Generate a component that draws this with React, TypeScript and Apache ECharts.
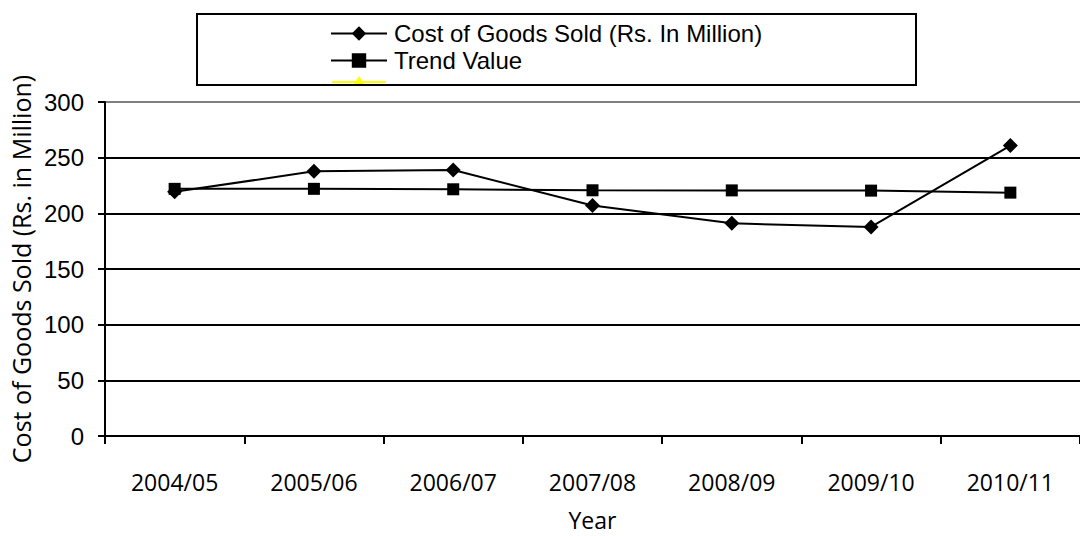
import React, { useEffect, useRef } from "react";
import * as echarts from "echarts";

// Fiscal years on the category axis
const years = ["2004/05", "2005/06", "2006/07", "2007/08", "2008/09", "2009/10", "2010/11"];
// Cost of goods sold, Rs. in million
const costOfGoodsSold = [219.3, 237.7, 239.0, 207.0, 191.0, 187.8, 260.9];
// Linear trend values
const trendValue = [222.0, 222.0, 221.6, 220.7, 220.6, 220.4, 218.6];
// Value axis ticks
const yMin = 0;
const yMax = 300;
const yStep = 50;

const COST_NAME = "Cost of Goods Sold (Rs. In Million)";
const TREND_NAME = "Trend Value";

export default function App() {
  const ref = useRef<HTMLDivElement>(null);

  useEffect(() => {
    if (!ref.current) return;
    const chart = echarts.init(ref.current, undefined, { renderer: "svg" });
    const black = "#000000";
    const sans = "Open Sans, sans-serif";
    const arial = "Liberation Sans, Arial, sans-serif";
    chart.setOption({
      animation: false,
      backgroundColor: "#ffffff",
      grid: { left: 105, right: 0, top: 102, bottom: 97, containLabel: false },
      legend: {
        data: [COST_NAME, TREND_NAME],
        orient: "vertical",
        left: 330,
        top: 20,
        padding: 0,
        itemGap: 0,
        itemWidth: 56,
        itemHeight: 18,
        textStyle: {
          fontFamily: arial,
          fontSize: 24,
          lineHeight: 27,
          color: black,
          padding: [0, 0, 0, 2],
        },
      },
      graphic: [
        {
          type: "rect",
          shape: { x: 197, y: 14, width: 719, height: 71 },
          style: { fill: "none", stroke: black, lineWidth: 2 },
          z: 10,
        },
        {
          type: "line",
          shape: { x1: 332, y1: 82, x2: 386, y2: 82 },
          style: { stroke: "#ffff00", lineWidth: 2 },
          z: 9,
        },
        {
          type: "polygon",
          shape: { points: [[359, 76], [354, 84], [364, 84]] },
          style: { fill: "#ffff00" },
          z: 9,
        },
      ],
      xAxis: {
        type: "category",
        data: years,
        boundaryGap: true,
        name: "Year",
        nameLocation: "middle",
        nameGap: 72,
        nameTextStyle: { fontFamily: sans, fontSize: 23, color: black },
        axisLine: { lineStyle: { color: black, width: 2 } },
        axisTick: { show: true, length: 8, lineStyle: { color: black, width: 2 } },
        axisLabel: {
          fontFamily: sans,
          fontSize: 23,
          color: black,
          margin: 34,
        },
        splitLine: { show: false },
      },
      yAxis: {
        type: "value",
        min: yMin,
        max: yMax,
        interval: yStep,
        name: "Cost of Goods Sold (Rs. in Million)",
        nameLocation: "middle",
        nameGap: 70,
        nameTextStyle: { fontFamily: sans, fontSize: 25, color: black },
        axisLine: { show: true, lineStyle: { color: black, width: 2 } },
        axisTick: { show: true, length: 7, lineStyle: { color: black, width: 2 } },
        axisLabel: {
          fontFamily: arial,
          fontSize: 24,
          color: black,
          margin: 21,
        },
        splitLine: {
          show: true,
          lineStyle: {
            color: [black, black, black, black, black, black, "#808080"],
            width: 2,
          },
        },
      },
      series: [
        {
          name: COST_NAME,
          type: "line",
          data: costOfGoodsSold,
          symbol: "diamond",
          symbolSize: 15,
          lineStyle: { color: black, width: 2 },
          itemStyle: { color: black },
          z: 3,
        },
        {
          name: TREND_NAME,
          type: "line",
          data: trendValue,
          symbol: "rect",
          symbolSize: 12,
          lineStyle: { color: black, width: 2 },
          itemStyle: { color: black },
          z: 2,
        },
      ],
    });
    return () => chart.dispose();
  }, []);

  return (
    <div
      ref={ref}
      style={{ position: "fixed", left: 0, top: 0, width: 1080, height: 536, background: "#fff" }}
    />
  );
}
